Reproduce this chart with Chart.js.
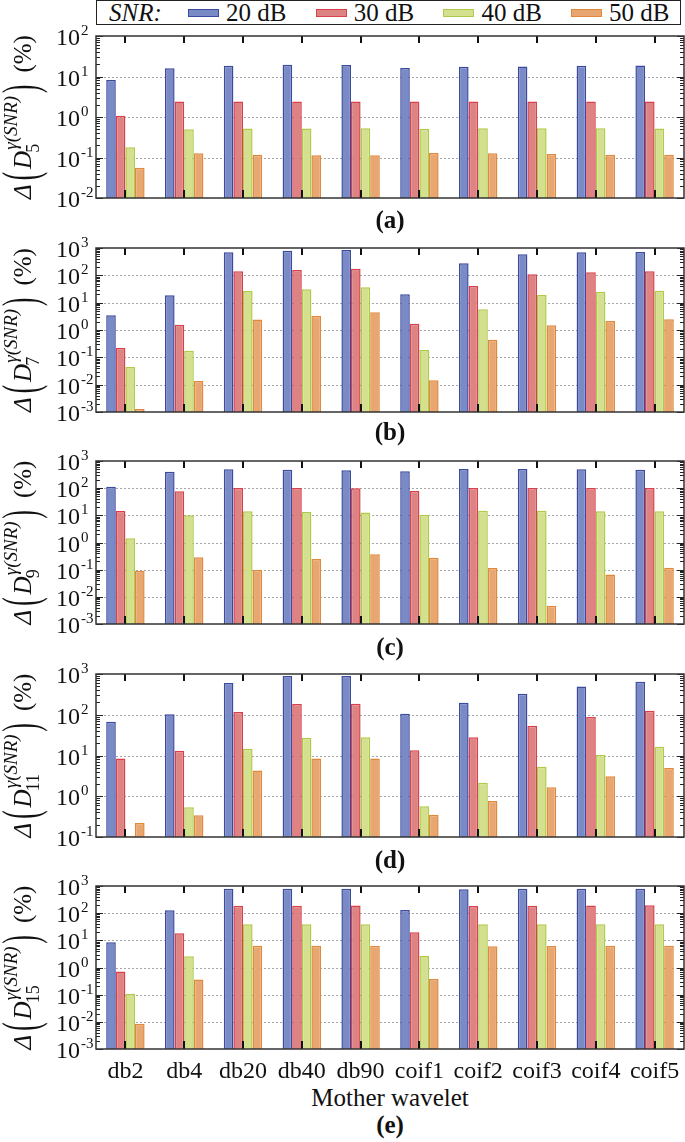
<!DOCTYPE html>
<html lang="en">
<head>
  <meta charset="UTF-8">
  <title>Mother wavelet vs SNR</title>
  <script src="https://cdn.jsdelivr.net/npm/chart.js"></script>
  <style>
    body { margin: 0; background: #fff; }
    #page {
      position: relative; width: 685px; height: 1142px; overflow: hidden;
      font-family: "Liberation Serif", serif; color: #111;
    }
    #page canvas { position: absolute; left: 0; }
    .legend {
      position: absolute; left: 96px; top: 0; width: 583px; height: 23px;
      border: 1.5px solid #222; background: #fff;
    }
    .legend span { position: absolute; top: -1px; font-size: 25px; line-height: 25px; white-space: nowrap; }
    .legend i.sw { position: absolute; top: 8px; width: 29px; height: 6px; border: 1.5px solid; }
    .tag {
      position: absolute; left: 290px; width: 200px; text-align: center;
      font-weight: bold; font-size: 25px; line-height: 28px;
    }
    .xtitle {
      position: absolute; left: 240px; width: 300px; top: 1084px; text-align: center;
      font-size: 25px; line-height: 28px;
    }
  </style>
</head>
<body>
<div id="page">
  <div class="legend" id="legend"></div>
  <div class="xtitle">Mother wavelet</div>
</div>

<script>
  const wavelets = ['db2', 'db4', 'db20', 'db40', 'db90', 'coif1', 'coif2', 'coif3', 'coif4', 'coif5'];
  const snrLabels = ['20 dB', '30 dB', '40 dB', '50 dB'];

  // (a) D5
  const d5_20 = [8.2, 15.9, 18.5, 19.5, 19.2, 16.2, 17.4, 17.7, 18.4, 18.8];
  const d5_30 = [1.08, 2.4, 2.4, 2.4, 2.4, 2.4, 2.4, 2.4, 2.4, 2.4];
  const d5_40 = [0.178, 0.50, 0.52, 0.52, 0.53, 0.51, 0.53, 0.53, 0.53, 0.52];
  const d5_50 = [0.056, 0.127, 0.117, 0.113, 0.113, 0.129, 0.127, 0.122, 0.117, 0.117];

  // (b) D7
  const d7_20 = [3.5, 18.6, 695, 800, 845, 20.2, 275, 587, 695, 710];
  const d7_30 = [0.22, 1.56, 140, 157, 175, 1.7, 41, 109, 129, 140];
  const d7_40 = [0.044, 0.175, 26.7, 31, 36.4, 0.186, 5.7, 19, 25, 27.4];
  const d7_50 = [0.0013, 0.0136, 2.4, 3.3, 4.5, 0.0145, 0.44, 1.48, 2.14, 2.45];

  // (c) D9
  const d9_20 = [113, 405, 494, 480, 453, 418, 508, 508, 494, 480];
  const d9_30 = [14.4, 76.6, 101, 101, 99, 78.7, 101, 101, 101, 101];
  const d9_40 = [1.43, 10, 14, 13.4, 12.8, 10.5, 14.8, 14.8, 14, 14];
  const d9_50 = [0.091, 0.285, 0.098, 0.247, 0.37, 0.275, 0.115, 0.0047, 0.066, 0.117];

  // (d) D11
  const d11_20 = [67.6, 103, 600, 893, 893, 106, 198, 329, 490, 647];
  const d11_30 = [8.4, 13.1, 117, 184, 187, 13.4, 28, 54, 88, 126];
  const d11_40 = [0.108, 0.54, 14.7, 27.4, 28, 0.57, 2.15, 5.3, 10.5, 16.4];
  const d11_50 = [0.22, 0.34, 4.3, 8.4, 8.4, 0.35, 0.76, 1.66, 3.1, 4.9];

  // (e) D15
  const d15_20 = [8.5, 127, 795, 795, 795, 131, 756, 795, 795, 795];
  const d15_30 = [0.72, 18.2, 188, 188, 190, 19.8, 185, 188, 190, 195];
  const d15_40 = [0.109, 2.6, 39, 39, 39, 2.65, 39, 39, 39, 39];
  const d15_50 = [0.0085, 0.36, 6.3, 6.3, 6.3, 0.38, 6.0, 6.2, 6.3, 6.3];

  const panelSubs = ['5', '7', '9', '11', '15'];
  const panelTags = ['(a)', '(b)', '(c)', '(d)', '(e)'];
  const panelSeries = [
    [d5_20, d5_30, d5_40, d5_50],
    [d7_20, d7_30, d7_40, d7_50],
    [d9_20, d9_30, d9_40, d9_50],
    [d11_20, d11_30, d11_40, d11_50],
    [d15_20, d15_30, d15_40, d15_50]
  ];
  // decade range of each y axis
  const yMinExp = [-2, -3, -3, -1, -3];
  const yMaxExp = [2, 3, 3, 3, 3];

  // layout (page pixels)
  const plotTop = [36, 248, 461, 674, 886];
  const plotBottom = [198, 412, 624, 837, 1049];
  const tagY = [220, 432, 647, 860, 1125];

  const fills = ['#7a8ac6', '#de8383', '#d5e08f', '#e8a770'];
  const borders = ['#3c4a9e', '#d8414b', '#aacc48', '#e0883c'];
  const SERIF = '"Liberation Serif", serif';

  function line(ctx, x1, y1, x2, y2) {
    ctx.beginPath();
    ctx.moveTo(x1, y1);
    ctx.lineTo(x2, y2);
    ctx.stroke();
  }

  function drawYTitle(ctx, cy, sub) {
    const f = {
      delta: 'italic 25px ' + SERIF, paren: '50px ' + SERIF, d: 'italic 25px ' + SERIF,
      sup: 'italic 19px ' + SERIF, sub: '18px ' + SERIF, pct: '25px ' + SERIF
    };
    const squeeze = 0.5; // thin, tall bracket
    ctx.save();
    ctx.translate(31, cy);
    ctx.rotate(-Math.PI / 2);
    ctx.fillStyle = '#111';
    ctx.textBaseline = 'alphabetic';
    const w = (font, t) => { ctx.font = font; return ctx.measureText(t).width; };
    const wScript = Math.max(w(f.sup, 'γ(SNR)'), w(f.sub, sub));
    const wParen = w(f.paren, '(') * squeeze;
    const total = w(f.delta, 'Δ') + 4 + wParen + 3 + w(f.d, 'D') + 1 + wScript + 3 +
      wParen + 12 + w(f.pct, '(%)');
    let x = -total / 2;
    const put = (font, t, dy, gap) => {
      ctx.font = font;
      ctx.fillText(t, x, dy);
      x += ctx.measureText(t).width + gap;
    };
    const paren = (t, gap) => {
      ctx.save();
      ctx.font = f.paren;
      ctx.translate(x, 6);
      ctx.scale(squeeze, 1);
      ctx.fillText(t, 0, 0);
      ctx.restore();
      x += wParen + gap;
    };
    put(f.delta, 'Δ', 0, 4);
    paren('(', 3);
    put(f.d, 'D', 0, 1);
    ctx.font = f.sup;
    ctx.fillText('γ(SNR)', x, -14);
    ctx.font = f.sub;
    ctx.fillText(sub, x - 3, 8);
    x += wScript + 3;
    paren(')', 12);
    put(f.pct, '(%)', 0, 0);
    ctx.restore();
  }

  const framePlugin = {
    id: 'frame',
    beforeDatasetsDraw(chart) {
      const { ctx, chartArea: a, scales: { y } } = chart;
      const lo = Math.round(Math.log10(y.min)), hi = Math.round(Math.log10(y.max));
      ctx.save();
      ctx.strokeStyle = '#a6a6a6';
      ctx.lineWidth = 1;
      ctx.setLineDash([2, 2]);
      for (let e = lo + 1; e < hi; e++) {
        const py = Math.round(y.getPixelForValue(Math.pow(10, e))) + 0.5;
        line(ctx, a.left, py, a.right, py);
      }
      ctx.restore();
    },
    afterDatasetsDraw(chart, args, opts) {
      const { ctx, chartArea: a, scales: { x, y } } = chart;
      const lo = Math.round(Math.log10(y.min)), hi = Math.round(Math.log10(y.max));
      ctx.save();
      // log ticks on both inner sides
      ctx.strokeStyle = '#222';
      ctx.lineWidth = 1;
      for (let e = lo; e <= hi; e++) {
        for (let k = 1; k <= 9; k++) {
          const v = k * Math.pow(10, e);
          if (v > y.max * 1.0001) break;
          const py = Math.round(y.getPixelForValue(v)) + 0.5;
          const len = k === 1 ? 7 : 4;
          line(ctx, a.left, py, a.left + len, py);
          line(ctx, a.right, py, a.right - len, py);
        }
      }
      // category ticks, top and bottom
      ctx.strokeStyle = '#111';
      ctx.lineWidth = 2;
      wavelets.forEach((w, i) => {
        const px = Math.round(x.getPixelForValue(i));
        line(ctx, px, a.top, px, a.top + 7);
        line(ctx, px, a.bottom, px, a.bottom - 8);
      });
      // frame
      ctx.strokeStyle = '#333';
      ctx.lineWidth = 1.5;
      ctx.strokeRect(a.left, a.top, a.right - a.left, a.bottom - a.top);
      // decade labels 10^n
      ctx.fillStyle = '#111';
      ctx.textBaseline = 'alphabetic';
      for (let e = lo; e <= hi; e++) {
        const py = y.getPixelForValue(Math.pow(10, e));
        ctx.font = '24px ' + SERIF;
        ctx.textAlign = 'right';
        ctx.fillText('10', 80, py + 9);
        ctx.font = '15px ' + SERIF;
        ctx.textAlign = 'left';
        ctx.fillText(String(e), 81, py - 1);
      }
      ctx.restore();
      drawYTitle(ctx, (a.top + a.bottom) / 2, opts.sub);
    }
  };

  // legend
  const legend = document.getElementById('legend');
  let legendHtml = '<span style="left:12px;font-style:italic">SNR:</span>';
  snrLabels.forEach((lab, i) => {
    const left = 91 + i * 127.7;
    legendHtml +=
      '<i class="sw" style="left:' + left + 'px;background:' + fills[i] + ';border-color:' + borders[i] + '"></i>' +
      '<span style="left:' + (left + 38) + 'px">' + lab + '</span>';
  });
  legend.innerHTML = legendHtml;

  const page = document.getElementById('page');

  panelSeries.forEach((series, p) => {
    const last = p === panelSeries.length - 1;
    const padTop = 14;
    const axisH = last ? 40 : 0;
    const canvasTop = plotTop[p] - padTop;
    const height = (plotBottom[p] - plotTop[p]) + padTop + 12 + axisH;
    const padBottom = height - padTop - (plotBottom[p] - plotTop[p]) - axisH;

    const canvas = document.createElement('canvas');
    canvas.width = 685;
    canvas.height = height;
    canvas.style.top = canvasTop + 'px';
    page.appendChild(canvas);

    const tag = document.createElement('div');
    tag.className = 'tag';
    tag.style.top = (tagY[p] - 14) + 'px';
    tag.textContent = panelTags[p];
    page.appendChild(tag);

    new Chart(canvas.getContext('2d'), {
      type: 'bar',
      data: {
        labels: wavelets,
        datasets: series.map((vals, s) => ({
          label: snrLabels[s],
          data: vals,
          backgroundColor: fills[s],
          borderColor: borders[s],
          borderWidth: 1.5,
          categoryPercentage: 0.653,
          barPercentage: 1.0
        }))
      },
      options: {
        responsive: false,
        animation: false,
        devicePixelRatio: 1,
        layout: { padding: { top: padTop, bottom: padBottom, left: 0, right: 1 } },
        scales: {
          x: {
            grid: { display: false },
            border: { display: false },
            ticks: {
              display: last, color: '#111', padding: 0, maxRotation: 0, autoSkip: false,
              font: { family: 'Liberation Serif', size: 24 }
            },
            afterFit(scale) { scale.height = axisH; }
          },
          y: {
            type: 'logarithmic',
            min: Math.pow(10, yMinExp[p]),
            max: Math.pow(10, yMaxExp[p]),
            grid: { display: false },
            border: { display: false },
            ticks: { display: false },
            afterFit(scale) { scale.width = 96; }
          }
        },
        plugins: {
          legend: { display: false },
          tooltip: { enabled: false },
          frame: { sub: panelSubs[p] }
        }
      },
      plugins: [framePlugin]
    });
  });
</script>
</body>
</html>
